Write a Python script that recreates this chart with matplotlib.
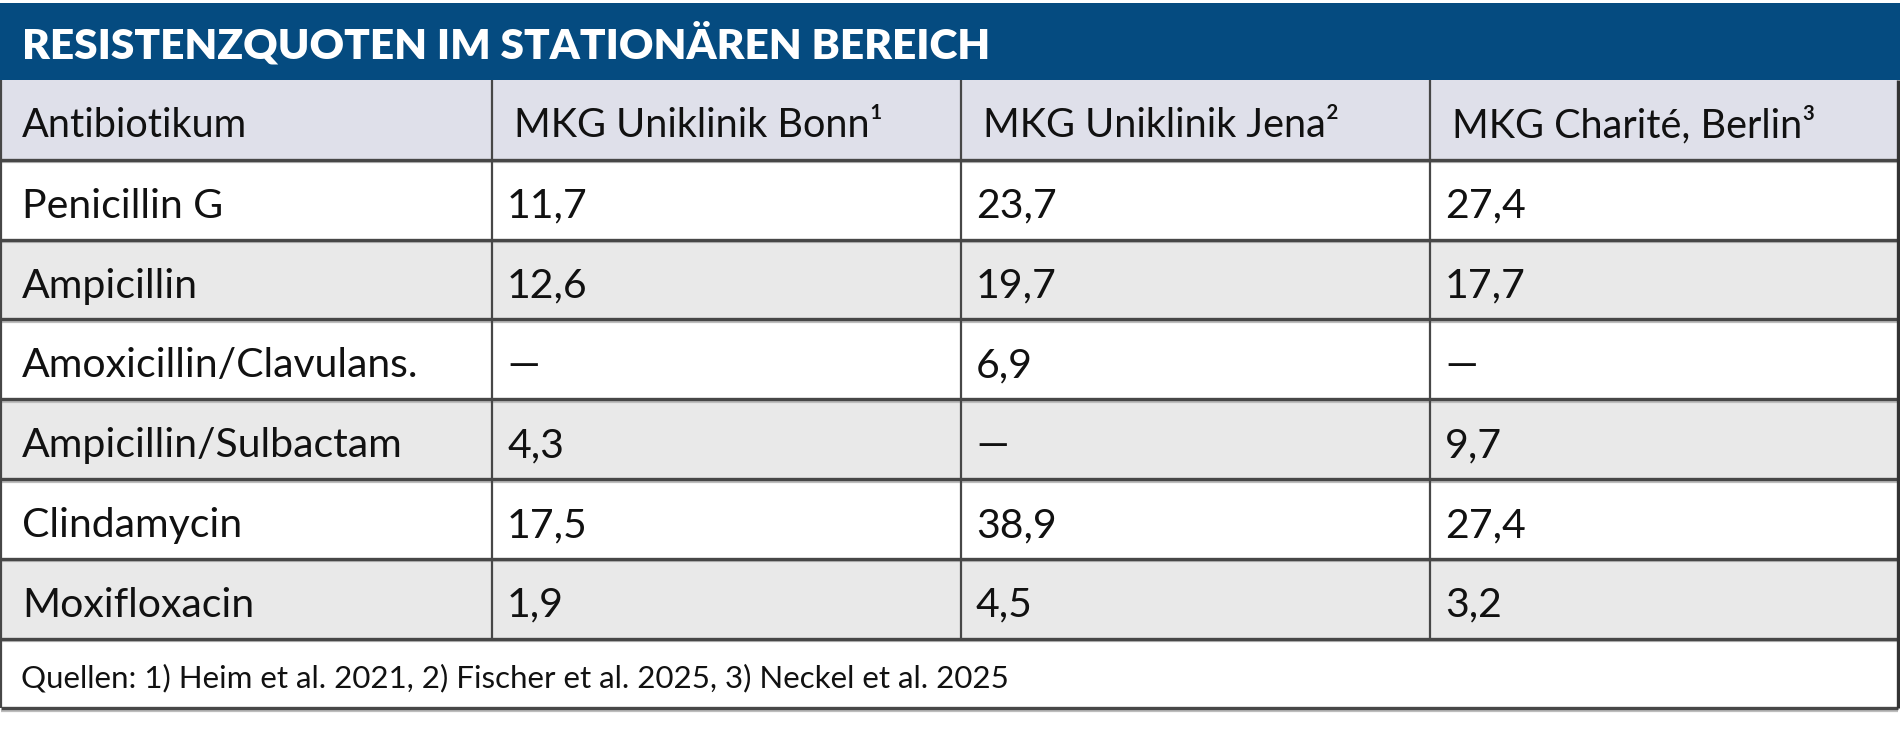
import matplotlib
matplotlib.use("Agg")
import matplotlib.pyplot as plt
from matplotlib.patches import Rectangle

# ---- data ----
title = "RESISTENZQUOTEN IM STATIONÄREN BEREICH"
col_headers = ["Antibiotikum", "MKG Uniklinik Bonn¹", "MKG Uniklinik Jena²", "MKG Charité, Berlin³"]
antibiotics = ["Penicillin G", "Ampicillin", "Amoxicillin/Clavulans.",
               "Ampicillin/Sulbactam", "Clindamycin", "Moxifloxacin"]
bonn = [11.7, 12.6, None, 4.3, 17.5, 1.9]
jena = [23.7, 19.7, 6.9, None, 38.9, 4.5]
charite = [27.4, 17.7, None, 9.7, 27.4, 3.2]
footnote = "Quellen: 1) Heim et al. 2021, 2) Fischer et al. 2025, 3) Neckel et al. 2025"

def fmt(v):
    return "—" if v is None else f"{v:.1f}".replace(".", ",")

FONT = ["Lato", "DejaVu Sans"]
W, H = 1900, 734
fig = plt.figure(figsize=(19, 7.34), dpi=100)
ax = fig.add_axes([0, 0, 1, 1])
ax.set_xlim(0, W)
ax.set_ylim(H, 0)
ax.axis("off")

cols = [1, 492, 961, 1430, 1898]
title_top, title_bot = 3, 80
row_h = 79.8
header_top = title_bot
rows_top = header_top + row_h
n = len(antibiotics)
foot_top = rows_top + n * row_h
foot_bot = 708

BLUE = "#054b80"
HEAD_BG = "#dfe0ea"
GRAY_BG = "#e9e9e9"
LINE = "#474747"
TXT = "#111111"

# title bar
ax.add_patch(Rectangle((0, title_top), W, title_bot - title_top, color=BLUE, lw=0))
ax.text(22, 59, title, color="white", fontsize=30.5, fontweight="heavy",
        family=FONT, va="baseline", ha="left")

# header row
ax.add_patch(Rectangle((cols[0], header_top), cols[-1] - cols[0], row_h, color=HEAD_BG, lw=0))
for j, h in enumerate(col_headers):
    ax.text(cols[j] + (21 if j == 0 else 22), header_top + 57, h, color=TXT,
            fontsize=28.5, family=FONT, va="baseline", ha="left")

# body rows
for i, name in enumerate(antibiotics):
    top = rows_top + i * row_h
    bg = "white" if i % 2 == 0 else GRAY_BG
    ax.add_patch(Rectangle((cols[0], top), cols[-1] - cols[0], row_h, color=bg, lw=0))
    vals = [name, fmt(bonn[i]), fmt(jena[i]), fmt(charite[i])]
    for j, v in enumerate(vals):
        ax.text(cols[j] + (21 if j == 0 else 15), top + 58, v, color=TXT,
                fontsize=29.5, family=FONT, va="baseline", ha="left")

# footnote
ax.add_patch(Rectangle((cols[0], foot_top), cols[-1] - cols[0], foot_bot - foot_top, color="white", lw=0))
ax.text(21, foot_top + 49, footnote, color=TXT, fontsize=22.5, family=FONT,
        va="baseline", ha="left")

# horizontal lines (dark line + light shadow)
ys = [header_top + row_h + i * row_h for i in range(n + 1)] + [foot_bot]
for y in ys:
    ax.plot([cols[0], cols[-1]], [y + 2.6, y + 2.6], color="#bdbdbd", lw=1.6, solid_capstyle="butt")
    ax.plot([cols[0], cols[-1]], [y, y], color=LINE, lw=2.4, solid_capstyle="butt")

# vertical lines
for x in cols[1:-1]:
    ax.plot([x, x], [header_top, foot_top], color=LINE, lw=1.6, solid_capstyle="butt")
ax.plot([cols[0], cols[0]], [header_top, foot_bot], color=LINE, lw=1.6, solid_capstyle="butt")
ax.plot([cols[-1], cols[-1]], [header_top, foot_bot], color="#333333", lw=2.4, solid_capstyle="butt")

fig.savefig("out.png", dpi=100, facecolor="white")
